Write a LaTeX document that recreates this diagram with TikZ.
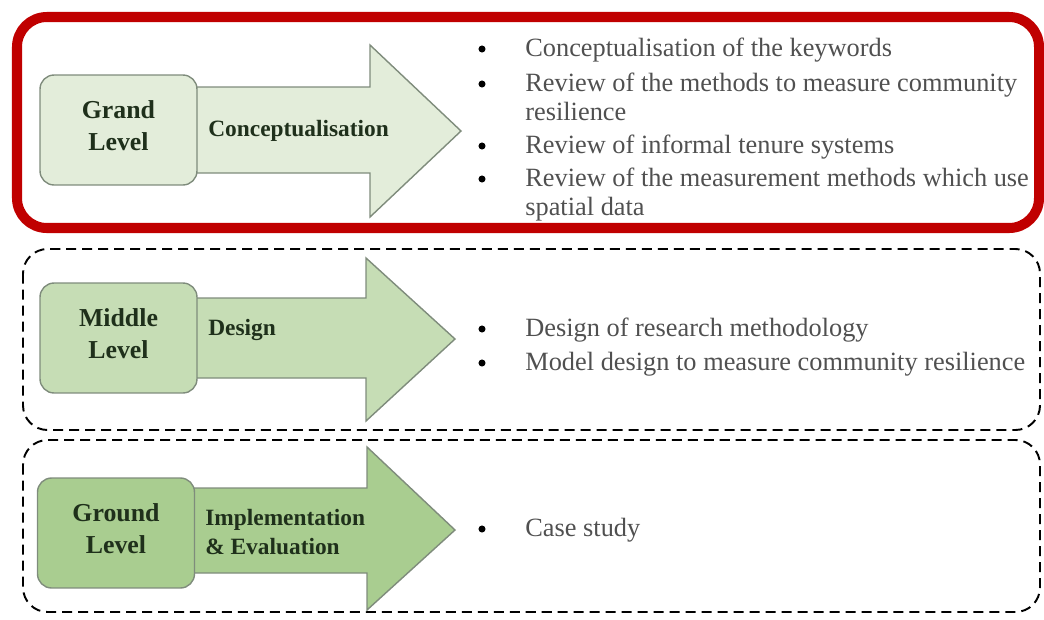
\documentclass[tikz,border=0pt]{standalone}
\usepackage{fontspec}
\setmainfont{Liberation Serif}
\usetikzlibrary{positioning}
\definecolor{framered}{HTML}{C00000}
\definecolor{grandfill}{HTML}{E3EDDA}
\definecolor{middlefill}{HTML}{C6DDB5}
\definecolor{groundfill}{HTML}{A9CD90}
\definecolor{edgegray}{HTML}{7F8C7C}
\definecolor{labelgreen}{HTML}{1F301B}
\definecolor{bodygray}{HTML}{505050}
\begin{document}
\begin{tikzpicture}[x=0.02cm,y=-0.02cm]
				\tikzstyle{Level} = [rectangle, rounded corners=8pt, draw=edgegray, line width=0.8pt, minimum width=3.14cm, minimum height=2.2cm, text depth=5pt, align=center, text=labelgreen, font=\fontsize{14.7}{18.2}\selectfont\bfseries]
				\tikzstyle{Arrow} = [draw=edgegray, line width=0.8pt]
				\tikzstyle{ArrowText} = [anchor=west, align=left, inner sep=0pt, text=labelgreen, font=\fontsize{13.3}{17}\selectfont\bfseries]
				\tikzstyle{Item} = [anchor=base west, inner sep=0pt, text=bodygray, font=\fontsize{15}{16.6}\selectfont]
				\tikzstyle{Bullet} = [circle, fill=black, inner sep=0pt, minimum size=4pt]
				\tikzstyle{Frame} = [black, line width=1.1pt, dash pattern=on 5.7pt off 3.4pt, rounded corners=14pt]
				\useasboundingbox (0,0) rectangle (1044,619);
				% frames
				\draw [framered, line width=5.7pt, rounded corners=17pt] (17,17) rectangle (1039,228);
				\draw [Frame] (23,249) rectangle (1040,430);
				\draw [Frame] (23,440) rectangle (1040,612);
				% grand level
				\filldraw [Arrow, fill=grandfill] (190,87) -- (370,87) -- (370,45) -- (461,131) -- (370,217) -- (370,173) -- (190,173) -- cycle;
				\node (grand) at (118.5,130) [Level, fill=grandfill] {Grand\\Level};
				\node (concept) at (208,131) [ArrowText] {Conceptualisation};
				\node (b1) at (482,49) [Bullet] {};
				\node (b2) at (482,84) [Bullet] {};
				\node (b3) at (482,146) [Bullet] {};
				\node (b4) at (482,179) [Bullet] {};
				\node (i1) at (525,56) [Item] {Conceptualisation of the keywords};
				\node (i2) at (525,91) [Item] {\begin{tabular}[t]{@{}l@{}}Review of the methods to measure community\\resilience\end{tabular}};
				\node (i3) at (525,153) [Item] {Review of informal tenure systems};
				\node (i4) at (525,186) [Item] {\begin{tabular}[t]{@{}l@{}}Review of the measurement methods which use\\spatial data\end{tabular}};
				% middle level
				\filldraw [Arrow, fill=middlefill] (190,298) -- (366,298) -- (366,258) -- (455,339) -- (366,421) -- (366,378) -- (190,378) -- cycle;
				\node (middle) at (118.5,338) [Level, fill=middlefill] {Middle\\Level};
				\node (design) at (208,330) [ArrowText] {Design};
				\node (b5) at (482,329) [Bullet] {};
				\node (b6) at (482,363) [Bullet] {};
				\node (i5) at (525,336) [Item] {Design of research methodology};
				\node (i6) at (525,370) [Item] {Model design to measure community resilience};
				% ground level
				\filldraw [Arrow, fill=groundfill] (190,488) -- (367,488) -- (367,447) -- (455,530) -- (367,610) -- (367,573) -- (190,573) -- cycle;
				\node (ground) at (116,533) [Level, fill=groundfill] {Ground\\Level};
				\node (implement) at (205,532) [ArrowText] {Implementation\\\& Evaluation};
				\node (b7) at (482,529) [Bullet] {};
				\node (i7) at (525,536) [Item] {Case study};
			\end{tikzpicture}
\end{document}
